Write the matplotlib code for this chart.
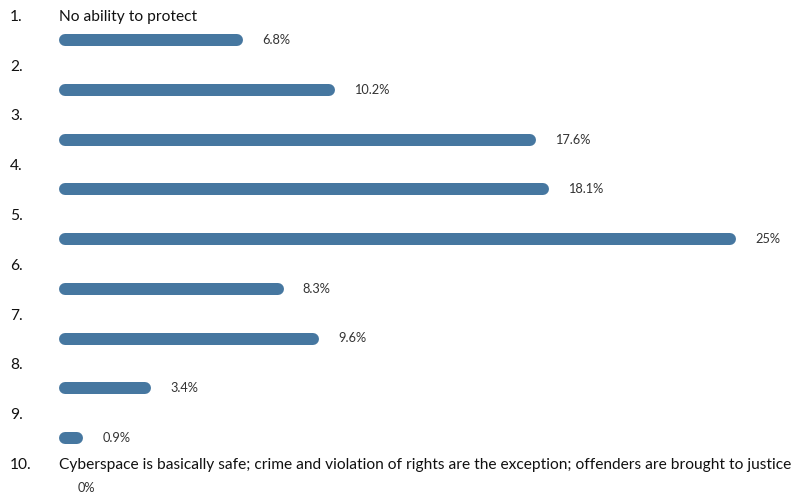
import numpy as np
import matplotlib.pyplot as plt

ranks = ["1.", "2.", "3.", "4.", "5.", "6.", "7.", "8.", "9.", "10."]
texts = ["No ability to protect", "", "", "", "", "", "", "", "",
         "Cyberspace is basically safe; crime and violation of rights are the exception; offenders are brought to justice"]
shares = [6.8, 10.2, 17.6, 18.1, 25, 8.3, 9.6, 3.4, 0.9, 0]
share_labels = ["6.8%", "10.2%", "17.6%", "18.1%", "25%", "8.3%", "9.6%", "3.4%", "0.9%", "0%"]

bar_color = "#4677a0"
px_per_pct = 27.09
x0_px = 59
row0_px = 40
row_step = 49.75
W, H = 795, 496

fig = plt.figure(figsize=(W / 100, H / 100), dpi=100)
ax = fig.add_axes([0, 0, 1, 1])
ax.set_xlim(-x0_px / px_per_pct, (W - x0_px) / px_per_pct)
ax.set_ylim((H - row0_px) / row_step, -row0_px / row_step)
ax.axis("off")

bar_h_px = 12
r = (bar_h_px / 2) / px_per_pct   # cap radius in data units
lw = bar_h_px * 72 / 100

for i, v in enumerate(shares):
    if v > 0:
        ax.plot([r, max(v - r, r)], [i, i], color=bar_color, lw=lw,
                solid_capstyle="round")
    ax.text(v + 19 / px_per_pct, i, share_labels[i], fontsize=9.2, color="#333333",
            va="center", ha="left", family="Lato")
    ty = i - 23 / row_step
    ax.text(-49 / px_per_pct, ty, ranks[i], fontsize=11.2, color="#111111",
            va="center", ha="left", family="Lato")
    if texts[i]:
        ax.text(0, ty, texts[i], fontsize=11.2, color="#111111",
                va="center", ha="left", family="Lato")

fig.savefig("out.png", dpi=100, facecolor="white")
